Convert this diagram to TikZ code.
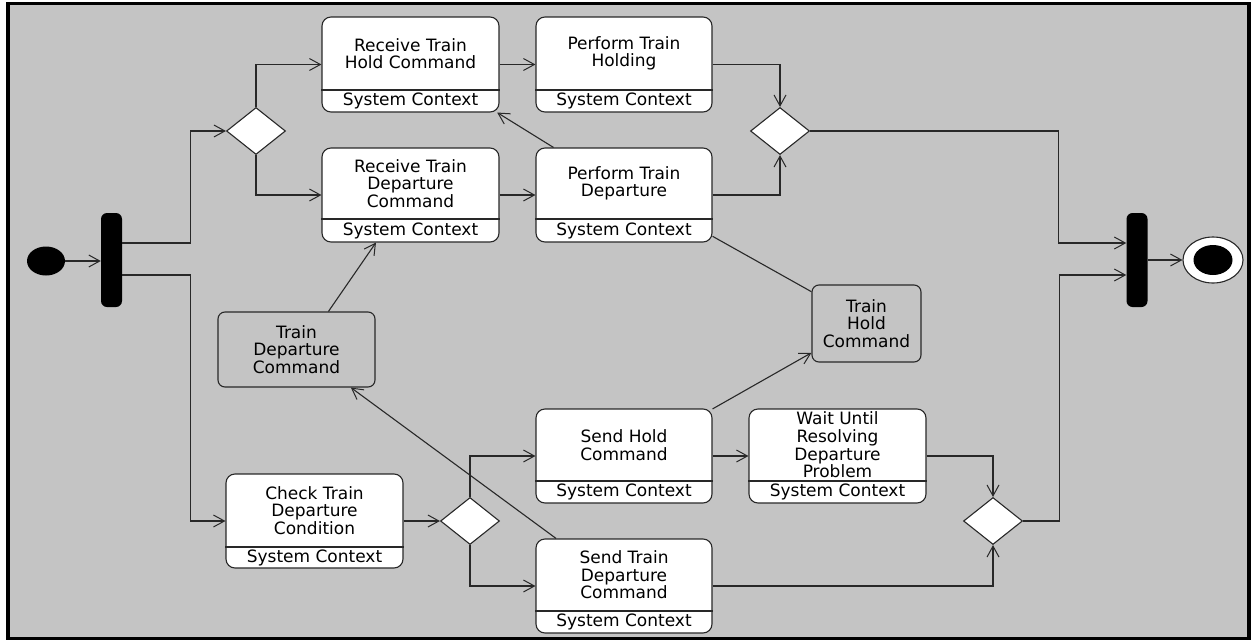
\documentclass[tikz,border=0pt]{standalone}
\usepackage{fontspec}
\setmainfont{DejaVu Sans}
\usetikzlibrary{arrows.meta,shapes.geometric}

\definecolor{canvasgray}{RGB}{196,196,196}
\definecolor{inkgray}{RGB}{40,40,40}

\tikzset{
  edge line/.style={draw=inkgray, line width=1.1pt},
  flow/.style={edge line, -{Straight Barb[length=11pt,width=12pt,line width=1pt]}},
  actbox/.style={edge line, fill=white, rounded corners=9pt, inner sep=0pt, rectangle},
  objbox/.style={edge line, fill=canvasgray, rounded corners=7pt, inner sep=0pt, rectangle},
  acttext/.style={inner sep=0pt, align=center, font=\fontsize{17}{17.6}\selectfont, text=black},
  syncbar/.style={fill=black, rounded corners=6pt, minimum width=21pt, minimum height=94pt, inner sep=0pt, rectangle},
  decision/.style={diamond, edge line, fill=white, minimum width=59pt, minimum height=47pt, inner sep=0pt},
}

% action node: name, x1, y1, x2, y2, y of compartment line, text
\newcommand\actnode[7]{%
  \node[actbox, minimum width={#4-#2}, minimum height={#5-#3}] (#1) at ({(#2+#4)/2},{(#3+#5)/2}) {};
  \draw[edge line] (#1.west |- 0,#6) -- (#1.east |- 0,#6);
  \node[acttext] (#1-t) at ({(#2+#4)/2},{(#3+#6)/2}) {#7};
  \node[acttext] (#1-c) at ({(#2+#4)/2},{(#6+#5)/2}) {System Context};
}

\begin{document}
\begin{tikzpicture}[x=1pt, y=-1pt]
  \useasboundingbox (0,0) rectangle (1251,640);
  \fill[white] (0,0) rectangle (1251,640);
  \draw[line width=3.5pt, fill=canvasgray] (8,3.5) rectangle (1249,638.5);

  % initial and final nodes, fork and join bars
  \node[ellipse, fill=black, minimum width=38pt, minimum height=29pt, inner sep=0pt] (start) at (46,261) {};
  \node[syncbar] (fork) at (111.5,260) {};
  \node[syncbar] (join) at (1137,260) {};
  \node[ellipse, edge line, fill=white, minimum width=60pt, minimum height=46pt, inner sep=0pt] (final) at (1213,260) {};
  \node[ellipse, fill=black, minimum width=39pt, minimum height=30pt, inner sep=0pt] (finaldot) at (1213,260) {};

  % decisions
  \node[decision] (dec1) at (256,131) {};
  \node[decision] (dec2) at (780,131) {};
  \node[decision] (dec3) at (470,521) {};
  \node[decision] (dec4) at (993,521) {};

  % actions
  \actnode{rthc}{322}{17}{499}{112}{90}{Receive Train\\Hold Command}
  \actnode{pth}{536}{17}{712}{112}{90}{Perform Train\\Holding}
  \actnode{rtdc}{322}{148}{499}{242}{219}{Receive Train\\Departure\\Command}
  \actnode{ptd}{536}{148}{712}{242}{219}{Perform Train\\Departure}
  \actnode{check}{226}{474}{403}{568}{547}{Check Train\\Departure\\Condition}
  \actnode{shc}{536}{409}{712}{503}{481}{Send Hold\\Command}
  \actnode{wait}{749}{409}{926}{503}{481}{Wait Until\\Resolving\\Departure\\Problem}
  \actnode{stdc}{536}{539}{712}{633}{611}{Send Train\\Departure\\Command}

  % object nodes
  \node[objbox, minimum width=157pt, minimum height=75pt] (tdc) at (296.5,349.5) {};
  \node[acttext] (tdc-t) at (296.5,349.5) {Train\\Departure\\Command};
  \node[objbox, minimum width=109pt, minimum height=77pt] (thc) at (866.5,323.5) {};
  \node[acttext] (thc-t) at (866.5,323.5) {Train\\Hold\\Command};

  % control flows
  \draw[flow] (start.east) -- (start.east -| fork.west);
  \draw[flow] ([yshift=17pt]fork.east) -- ++(68,0) |- (dec1.west);
  \draw[flow] ([yshift=-15pt]fork.east) -- ++(68,0) |- (check.west);
  \draw[flow] (dec1.north) |- (rthc.west);
  \draw[flow] (dec1.south) |- (rtdc.west);
  \draw[flow] (rthc.east) -- (pth.west);
  \draw[flow] (rtdc.east) -- (ptd.west);
  \draw[flow] (pth.east) -| (dec2.north);
  \draw[flow] (ptd.east) -| (dec2.south);
  \draw[flow] (dec2.east) -- ++(248,0) |- ([yshift=17pt]join.west);
  \draw[flow] (dec4.east) -- ++(36,0) |- ([yshift=-15pt]join.west);
  \draw[flow] (join.east) -- (join.east -| final.west);
  \draw[flow] (check.east) -- (dec3.west);
  \draw[flow] (dec3.north) |- (shc.west);
  \draw[flow] (dec3.south) |- (stdc.west);
  \draw[flow] (shc.east) -- (wait.west);
  \draw[flow] (wait.east) -| (dec4.north);
  \draw[flow] (stdc.east) -| (dec4.south);

  % object flows
  \draw[flow] (ptd.146) -- (rthc.-29.3);
  \draw[flow] (tdc.50.9) -- (rtdc.234);
  \draw[flow] (stdc.145) -- (tdc.-35.7);
  \draw[edge line] (ptd.-25.5) -- (thc.150);
  \draw[flow] (shc.28) -- (thc.208.4);
\end{tikzpicture}
\end{document}
